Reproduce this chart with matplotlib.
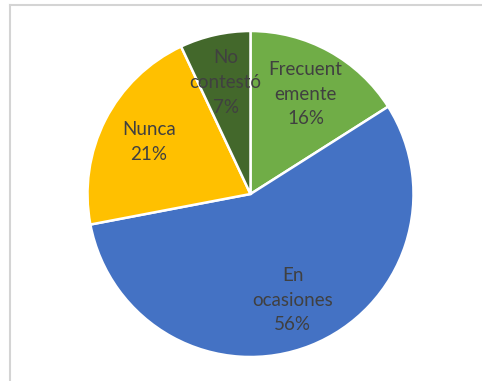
import matplotlib.pyplot as plt
from matplotlib.lines import Line2D

# respuestas de la encuesta
etiquetas = ["Frecuent\nemente", "En\nocasiones", "Nunca", "No\ncontestó"]
porcentajes = [16, 56, 21, 7]
colores = ["#70AD47", "#4472C4", "#FFC000", "#43682B"]

W, H = 482, 381
fig = plt.figure(figsize=(W / 100, H / 100), dpi=100)
fig.patch.set_facecolor("white")

# marco gris del cuadro del grafico (arriba e izquierda)
fig.add_artist(Line2D([9.5 / W, 9.5 / W], [0, 1 - 4.5 / H], color="#D4D4D4", lw=1.5))
fig.add_artist(Line2D([9.5 / W, 1], [1 - 4.5 / H, 1 - 4.5 / H], color="#D4D4D4", lw=1.5))

cx, cy, r = 250.5, 194, 163
ax = fig.add_axes([(cx - r) / W, (H - cy - r) / H, 2 * r / W, 2 * r / H])

textos = [f"{e}\n{p}%" for e, p in zip(etiquetas, porcentajes)]
wedges, txts = ax.pie(
    porcentajes,
    labels=textos,
    colors=colores,
    startangle=90,
    counterclock=False,
    labeldistance=0.70,
    radius=1.0,
    wedgeprops=dict(edgecolor="white", linewidth=1.8),
    textprops=dict(fontsize=13.5, color="#404040", family=["Lato", "DejaVu Sans"],
                   linespacing=1.55),
)
for t in txts:
    t.set_horizontalalignment("center")
    t.set_verticalalignment("center")
    t.set_multialignment("center")

ax.set_xlim(-1, 1)
ax.set_ylim(-1, 1)
ax.set_aspect("equal")

fig.savefig("out.png", dpi=100)
